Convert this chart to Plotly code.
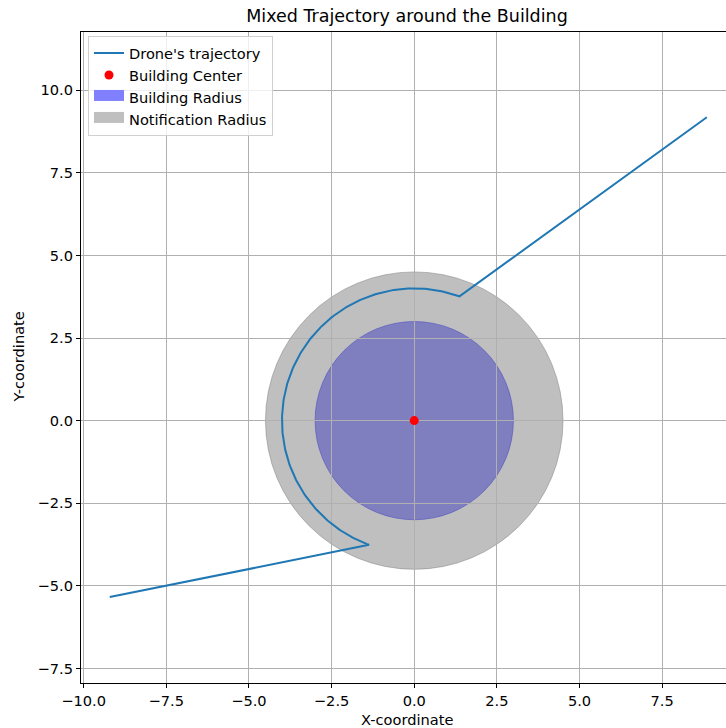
import numpy as np
import plotly.graph_objects as go

# ---- data ----
path_start = [-9.21, -5.34]
path_end = [8.85, 9.18]
arc_radius = 4.0
arc_start_deg = 250.0
arc_end_deg = 70.0
center = [0.0, 0.0]
building_radius = 3.0
notification_radius = 4.5
x_ticks = [-10.0, -7.5, -5.0, -2.5, 0.0, 2.5, 5.0, 7.5]
x_tick_labels = ["\u221210.0", "\u22127.5", "\u22125.0", "\u22122.5", "0.0", "2.5", "5.0", "7.5"]
y_ticks = [-7.5, -5.0, -2.5, 0.0, 2.5, 5.0, 7.5, 10.0]
y_tick_labels = ["\u22127.5", "\u22125.0", "\u22122.5", "0.0", "2.5", "5.0", "7.5", "10.0"]

ang = np.radians(np.linspace(arc_start_deg, arc_end_deg, 200))
arc_x = center[0] + arc_radius * np.cos(ang)
arc_y = center[1] + arc_radius * np.sin(ang)
traj_x = [path_start[0]] + list(arc_x) + [path_end[0]]
traj_y = [path_start[1]] + list(arc_y) + [path_end[1]]

FONT = "DejaVu Sans"
FS = 14.6
W, H = 726, 728
L, R, T, B = 81, 0, 32, 45

BLUE_FILL = "rgba(0,0,255,0.5)"
GRAY_FILL = "rgba(128,128,128,0.5)"

fig = go.Figure()
fig.add_trace(go.Scatter(x=traj_x, y=traj_y, mode="lines", name="Drone's trajectory",
                         line=dict(color="#1f77b4", width=2)))
fig.add_trace(go.Scatter(x=[center[0]], y=[center[1]], mode="markers", name="Building Center",
                         marker=dict(color="red", size=9)))
# legend entries for the filled circles
fig.add_trace(go.Scatter(x=[None], y=[None], mode="lines", fill="toself", name="Building Radius",
                         fillcolor=BLUE_FILL, line=dict(color="rgb(128,128,255)", width=10)))
fig.add_trace(go.Scatter(x=[None], y=[None], mode="lines", fill="toself", name="Notification Radius",
                         fillcolor=GRAY_FILL, line=dict(color="rgb(191,191,191)", width=10)))

# drawn circles
fig.add_shape(type="circle", xref="x", yref="y", layer="below",
              x0=center[0] - building_radius, x1=center[0] + building_radius,
              y0=center[1] - building_radius, y1=center[1] + building_radius,
              fillcolor=BLUE_FILL, line=dict(color=BLUE_FILL, width=1))
fig.add_shape(type="circle", xref="x", yref="y", layer="below",
              x0=center[0] - notification_radius, x1=center[0] + notification_radius,
              y0=center[1] - notification_radius, y1=center[1] + notification_radius,
              fillcolor=GRAY_FILL, line=dict(color=GRAY_FILL, width=1))

axis_common = dict(showgrid=True, gridcolor="#b0b0b0", gridwidth=1, zeroline=False,
                   showline=True, linecolor="black", linewidth=1.1,
                   ticks="outside", ticklen=4, tickwidth=1.1, tickcolor="black",
                   tickfont=dict(family=FONT, size=FS, color="black"))
fig.update_xaxes(range=[-10.08, 9.43], tickvals=x_ticks, ticktext=x_tick_labels, mirror=True, **axis_common)
fig.update_yaxes(range=[-7.94, 11.76], tickvals=y_ticks, ticktext=y_tick_labels, mirror=False, **axis_common)

fig.update_layout(
    width=W, height=H,
    margin=dict(l=L, r=R, t=T, b=B, pad=0),
    paper_bgcolor="white", plot_bgcolor="white",
    font=dict(family=FONT, size=FS, color="black"),
    title=dict(text="Mixed Trajectory around the Building", xref="container", yref="container",
               x=407 / W, y=1 - 16 / H, xanchor="center", yanchor="middle",
               font=dict(family=FONT, size=17.5, color="black")),
    legend=dict(x=(88 - L) / (W - L - R), y=1 - (36 - T) / (H - T - B), xanchor="left", yanchor="top",
                bgcolor="rgba(255,255,255,0.8)", bordercolor="#d0d0d0", borderwidth=1,
                font=dict(family=FONT, size=FS, color="black"), tracegroupgap=0),
    showlegend=True,
    annotations=[
        dict(text="X-coordinate", xref="paper", yref="paper", x=(407 - L) / (W - L - R), y=-(719 - (H - B)) / (H - T - B),
             xanchor="center", yanchor="middle", showarrow=False, font=dict(family=FONT, size=FS, color="black")),
        dict(text="Y-coordinate", xref="paper", yref="paper", x=-(L - 18) / (W - L - R), y=0.5,
             xanchor="center", yanchor="middle", textangle=-90, showarrow=False,
             font=dict(family=FONT, size=FS, color="black")),
    ],
)

fig.write_html("out.html")
